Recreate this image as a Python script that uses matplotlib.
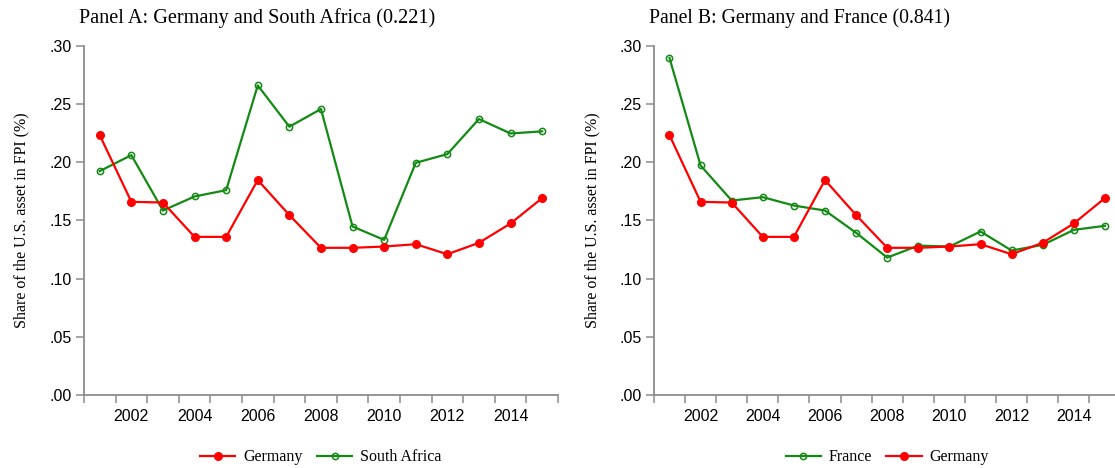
import matplotlib.pyplot as plt
import numpy as np

years = list(range(2001, 2016))

germany = [0.2231, 0.1659, 0.1653, 0.1358, 0.1358, 0.1846, 0.1545, 0.1264,
           0.1264, 0.1275, 0.1295, 0.1209, 0.1307, 0.1473, 0.1691]
south_africa = [0.1923, 0.2060, 0.1584, 0.1705, 0.1759, 0.2659, 0.2304, 0.2456,
                0.1447, 0.1332, 0.1994, 0.2069, 0.2370, 0.2246, 0.2264]
france = [0.2894, 0.1971, 0.1670, 0.1699, 0.1627, 0.1584, 0.1393, 0.1180,
          0.1283, 0.1275, 0.1404, 0.1241, 0.1289, 0.1418, 0.1453]

titles = ["Panel A: Germany and South Africa (0.221)",
          "Panel B: Germany and France (0.841)"]
ylab = "Share of the U.S. asset in FPI (%)"
ytick_vals = [0.0, 0.05, 0.10, 0.15, 0.20, 0.25, 0.30]
ytick_labels = [".00", ".05", ".10", ".15", ".20", ".25", ".30"]
xtick_vals = [2002, 2004, 2006, 2008, 2010, 2012, 2014]

RED = "#ff0000"
GREEN = "#138a13"
AXC = "#8c8c8c"

fig = plt.figure(figsize=(11.15, 4.68), dpi=100)
axA = fig.add_axes([0.0753, 0.156, 0.4251, 0.7464])
axB = fig.add_axes([0.5865, 0.156, 0.4184, 0.7464])

def style(ax, title, tsize):
    ax.set_xlim(2000.5, 2015.5)
    ax.set_ylim(0, 0.30)
    for s in ["top", "right"]:
        ax.spines[s].set_visible(False)
    for s in ["left", "bottom"]:
        ax.spines[s].set_color(AXC)
        ax.spines[s].set_linewidth(1.3)
    ax.set_yticks(ytick_vals)
    ax.set_yticklabels(ytick_labels, fontfamily="Liberation Sans", fontsize=11.5)
    ax.tick_params(axis="y", length=6, width=1.1, color=AXC, pad=3)
    ax.set_xticks(xtick_vals)
    ax.set_xticklabels([str(y) for y in xtick_vals], fontfamily="Liberation Sans", fontsize=11.5)
    # tick marks sit between the years
    ax.set_xticks(np.arange(2000.5, 2016, 1.0), minor=True)
    ax.tick_params(axis="x", which="major", length=0, pad=10)
    ax.tick_params(axis="x", which="minor", length=6, width=1.1, color=AXC)
    ax.set_ylabel(ylab, fontfamily="Liberation Serif", fontsize=11.5)
    ax.yaxis.set_label_coords(-0.115, 0.5)
    ax.text(-0.0105, 1.079, title, transform=ax.transAxes, ha="left", va="center",
            fontfamily="Liberation Serif", fontsize=tsize)

def plot_ger(ax):
    return ax.plot(years, germany, color=RED, lw=1.6, marker="o", ms=5.5,
                   mfc=RED, mec=RED, clip_on=False, zorder=4)[0]

def plot_green(ax, vals):
    return ax.plot(years, vals, color=GREEN, lw=1.6, marker="o", ms=4.5,
                   mfc="none", mec=GREEN, mew=1.1, clip_on=False, zorder=3)[0]

leg_kw = dict(loc="center", bbox_to_anchor=(0.5, -0.178), ncol=2, frameon=False,
              prop={"family": "Liberation Serif", "size": 11.5},
              handlelength=2.2, handletextpad=0.5, columnspacing=0.9)

# Panel A
style(axA, titles[0], 14.6)
g_sa = plot_green(axA, south_africa)
r_a = plot_ger(axA)
axA.legend([r_a, g_sa], ["Germany", "South Africa"], **leg_kw)

# Panel B
style(axB, titles[1], 14.2)
g_fr = plot_green(axB, france)
r_b = plot_ger(axB)
axB.legend([g_fr, r_b], ["France", "Germany"], **leg_kw)

fig.savefig("out.png", dpi=100)
